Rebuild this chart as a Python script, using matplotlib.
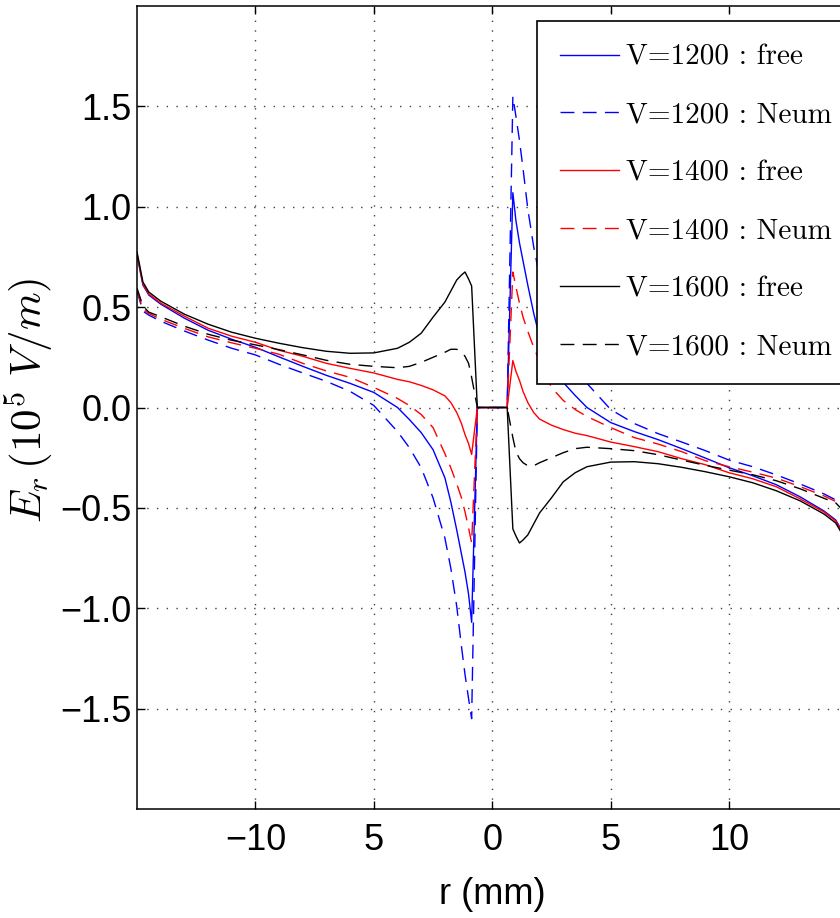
import numpy as np
import matplotlib
matplotlib.use("Agg")
import matplotlib.pyplot as plt
from matplotlib.font_manager import FontProperties

plt.rcParams['font.family'] = ['Liberation Sans', 'DejaVu Sans']
plt.rcParams['mathtext.fontset'] = 'cm'

# |r| (mm) sample points; values are E_r at r = -|r| (field is antisymmetric in r)
r_abs = [0.63, 0.87, 1.0, 1.15, 1.3, 1.5, 1.75, 2.0, 2.5, 3.0, 3.5, 4.0, 5.0, 6.0,
         7.0, 8.0, 9.0, 10.0, 11.0, 12.0, 13.0, 14.0, 14.5, 14.75, 15.0]

v1200_free = [0, -1.07, -0.93, -0.82, -0.73, -0.61, -0.47, -0.35, -0.21, -0.125, -0.06, 0.0,
              0.075, 0.12, 0.16, 0.205, 0.252, 0.30, 0.34, 0.385, 0.445, 0.515, 0.56, 0.61, 0.76]
v1200_neum = [0, -1.55, -1.45, -1.33, -1.19, -0.99, -0.80, -0.65, -0.45, -0.30, -0.20, -0.12,
              0.01, 0.08, 0.13, 0.172, 0.215, 0.262, 0.295, 0.336, 0.381, 0.43, 0.46, 0.48, 0.58]
v1400_free = [0, -0.234, -0.18, -0.135, -0.08, -0.025, 0.025, 0.058, 0.088, 0.11, 0.128, 0.14,
              0.172, 0.195, 0.22, 0.255, 0.285, 0.325, 0.355, 0.395, 0.455, 0.52, 0.565, 0.615, 0.765]
v1400_neum = [0, -0.675, -0.60, -0.52, -0.45, -0.38, -0.30, -0.23, -0.10, -0.035, 0.01, 0.045,
              0.10, 0.15, 0.182, 0.22, 0.265, 0.295, 0.322, 0.352, 0.394, 0.44, 0.468, 0.49, 0.585]
v1600_free = [0, 0.605, 0.64, 0.675, 0.66, 0.635, 0.58, 0.525, 0.45, 0.37, 0.325, 0.295,
              0.272, 0.27, 0.28, 0.298, 0.32, 0.345, 0.375, 0.415, 0.465, 0.53, 0.575, 0.625, 0.775]
v1600_neum = [0, 0.15, 0.22, 0.255, 0.275, 0.29, 0.29, 0.275, 0.25, 0.225, 0.205, 0.198,
              0.205, 0.215, 0.235, 0.262, 0.288, 0.312, 0.335, 0.365, 0.405, 0.452, 0.475, 0.505, 0.595]

labels = ['V=1200 : free', 'V=1200 : Neum', 'V=1400 : free',
          'V=1400 : Neum', 'V=1600 : free', 'V=1600 : Neum']
series = [v1200_free, v1200_neum, v1400_free, v1400_neum, v1600_free, v1600_neum]
colors = ['#0000ff', '#0000ff', '#ff0000', '#ff0000', '#000000', '#000000']
dashed = [False, True, False, True, False, True]

xticks = [-10, -5, 0, 5, 10]
xticklabels = ['\u221210', '5', '0', '5', '10']
yticks = [-1.5, -1.0, -0.5, 0.0, 0.5, 1.0, 1.5]
yticklabels = ['\u22121.5', '\u22121.0', '\u22120.5', '0.0', '0.5', '1.0', '1.5']

fig = plt.figure(figsize=(8.4, 9.18), dpi=100)
ax = fig.add_axes([137 / 840, 1 - 809 / 918, (847.5 - 137) / 840, (809 - 6) / 918])

r_full = [-x for x in reversed(r_abs)] + list(r_abs)
for vals, c, d, lab in zip(series, colors, dashed, labels):
    e_full = list(reversed(vals)) + [-v for v in vals]
    line, = ax.plot(r_full, e_full, color=c, lw=1.0, label=lab)
    if d:
        line.set_dashes((10, 6))

ax.set_xlim(-15, 15)
ax.set_ylim(-2, 2)
ax.set_xticks(xticks)
ax.set_xticklabels(xticklabels)
ax.set_yticks(yticks)
ax.set_yticklabels(yticklabels)
ax.tick_params(direction='in', length=5.5, width=1.0, top=True, right=True,
               labelsize=26)
ax.tick_params(axis='x', pad=10)
ax.tick_params(axis='y', pad=4)
for s in ax.spines.values():
    s.set_linewidth(1.1)

ax.grid(True, color='0.25', linestyle=(0, (1, 6)), linewidth=1.0)

ax.set_xlabel('r (mm)', fontsize=26)
ax.xaxis.set_label_coords(0.5, -0.085)
ax.set_ylabel(r'$E_r\,(10^5\ V/m)$', fontsize=31)
ax.yaxis.set_label_coords(-0.116, 0.509)

leg = ax.legend(loc='upper left', bbox_to_anchor=((537 - 137) / 710.5, (809 - 21) / 803),
                prop=FontProperties(family='cmr10', size=21), frameon=True,
                fancybox=False, framealpha=1, edgecolor='black', borderaxespad=0,
                handlelength=2.0, handletextpad=0.25, borderpad=0.8, labelspacing=1.08)
leg.get_frame().set_linewidth(1.2)

fig.savefig('out.png', dpi=100)
